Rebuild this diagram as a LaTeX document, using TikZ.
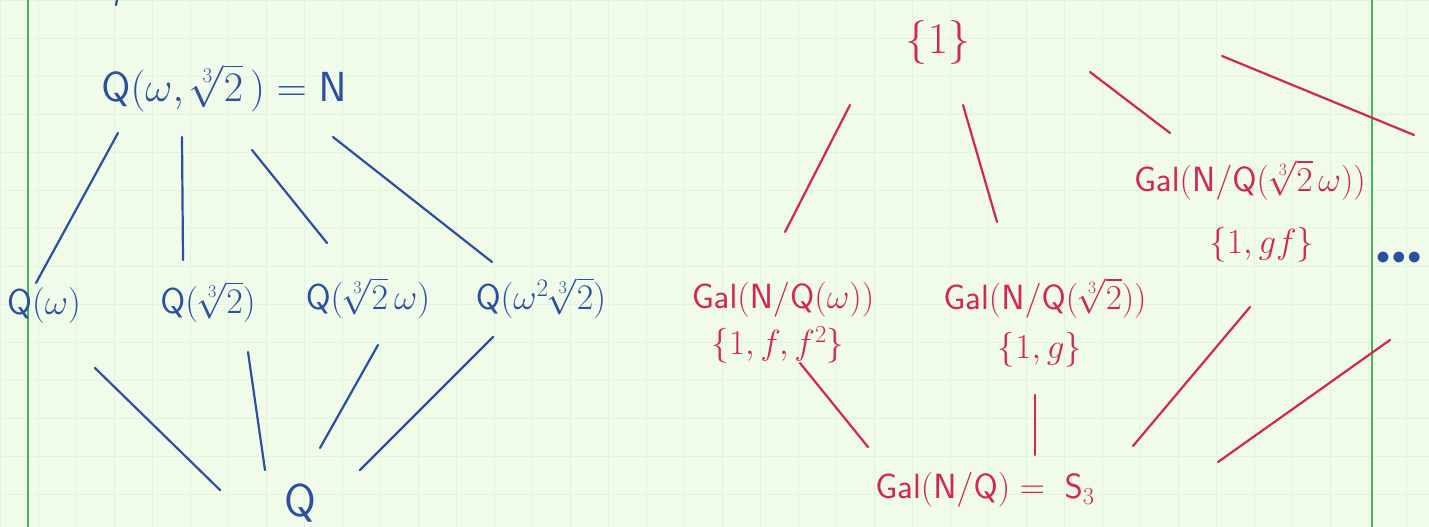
\RequirePackage{fix-cm}
\documentclass[tikz,border=0pt]{standalone}
\usepackage{amsmath}
\definecolor{paper}{HTML}{F0FBE9}
\definecolor{gridc}{HTML}{E2F3DF}
\definecolor{margin}{HTML}{3DB85C}
\definecolor{ink}{HTML}{2C4FA3}
\definecolor{redink}{HTML}{D62550}
\newcommand{\Qq}{\mathsf{Q}}
\newcommand{\Nn}{\mathsf{N}}
\newcommand{\Gal}{\mathsf{Gal}}
\tikzset{
  blue label/.style={text=ink, inner sep=0pt, font=\fontsize{36}{40}\selectfont},
  red label/.style={text=redink, inner sep=0pt, font=\fontsize{35}{39}\selectfont},
  blue line/.style={draw=ink, line width=2.2pt, line cap=round},
  red line/.style={draw=redink, line width=2.2pt, line cap=round},
}
\begin{document}
\begin{tikzpicture}[x=1pt, y=-1pt]
\useasboundingbox (0,0) rectangle (1429,527);
\fill[paper] (0,0) rectangle (1429,527);
\foreach \gx in {0,38,...,1429} \draw[gridc, line width=0.8pt] (\gx,0) -- (\gx,527);
\foreach \gy in {0,38,...,527} \draw[gridc, line width=0.8pt] (0,\gy) -- (1429,\gy);
\draw[margin, line width=1.6pt] (28,0) -- (28,527);
\draw[margin, line width=1.6pt] (1372,0) -- (1372,527);
% tiny stroke at top
\draw[blue line] (117,0) -- (116,5);

% ---- left lattice (fields)
\node[blue label, font=\fontsize{42}{46}\selectfont] (N) at (224,88) {$\Qq(\omega,\sqrt[3]{2}\,) = \Nn$};
\node[blue label] (Qw) at (44,305) {$\Qq(\omega)$};
\node[blue label] (Qr) at (208,302) {$\Qq(\sqrt[3]{2})$};
\node[blue label] (Qrw) at (368,298) {$\Qq(\sqrt[3]{2}\,\omega)$};
\node[blue label] (Qwr) at (541,298) {$\Qq(\omega^{2}\sqrt[3]{2})$};
\node[blue label, font=\fontsize{46}{50}\selectfont] (Q) at (300,503) {$\Qq$};

\coordinate (n1) at (118,133); \coordinate (w1) at (36,283);
\coordinate (n2) at (182,137); \coordinate (r1) at (183,260);
\coordinate (n3) at (252,150); \coordinate (rw1) at (327,243);
\coordinate (n4) at (333,137); \coordinate (wr1) at (492,262);
\draw[blue line] (n1) -- (w1);
\draw[blue line] (n2) -- (r1);
\draw[blue line] (n3) -- (rw1);
\draw[blue line] (n4) -- (wr1);

\coordinate (w2) at (95,368);  \coordinate (q1) at (220,490);
\coordinate (r2) at (248,352); \coordinate (q2) at (265,470);
\coordinate (rw2) at (378,345); \coordinate (q3) at (320,448);
\coordinate (wr2) at (493,337); \coordinate (q4) at (360,470);
\draw[blue line] (w2) -- (q1);
\draw[blue line] (r2) -- (q2);
\draw[blue line] (rw2) -- (q3);
\draw[blue line] (wr2) -- (q4);

% ---- right lattice (groups)
\node[red label, font=\fontsize{44}{48}\selectfont] (one) at (938,42) {$\{1\}$};
\node[red label] (Gw) at (783,300) {$\Gal(\Nn/\Qq(\omega))$};
\node[red label] (Gwset) at (778,345) {$\{1,f,f^{2}\}$};
\node[red label] (Gr) at (1045,298) {$\Gal(\Nn/\Qq(\sqrt[3]{2}))$};
\node[red label] (Grset) at (1040,350) {$\{1,g\}$};
\node[red label] (Grw) at (1250,180) {$\Gal(\Nn/\Qq(\sqrt[3]{2}\,\omega))$};
\node[red label] (Grwset) at (1262,245) {$\{1,gf\}$};
\node[red label] (GQ) at (985,490) {$\Gal(\Nn/\Qq) = \;\mathsf{S}_{3}$};
\node[text=ink, inner sep=0pt, anchor=west, font=\fontsize{28}{32}\selectfont] (dots) at (1376,258) {$\bullet\!\bullet\!\bullet$};

\coordinate (o1) at (850,105); \coordinate (a1) at (785,232);
\coordinate (o2) at (963,105); \coordinate (b1) at (997,222);
\coordinate (o3) at (1090,72); \coordinate (c1) at (1170,133);
\coordinate (o4) at (1222,56); \coordinate (d1) at (1414,135);
\draw[red line] (o1) -- (a1);
\draw[red line] (o2) -- (b1);
\draw[red line] (o3) -- (c1);
\draw[red line] (o4) -- (d1);

\coordinate (a2) at (800,363); \coordinate (s1) at (868,447);
\coordinate (b2) at (1035,395); \coordinate (s2) at (1035,455);
\coordinate (c2) at (1250,307); \coordinate (s3) at (1133,446);
\coordinate (d2) at (1390,340); \coordinate (s4) at (1218,462);
\draw[red line] (a2) -- (s1);
\draw[red line] (b2) -- (s2);
\draw[red line] (c2) -- (s3);
\draw[red line] (d2) -- (s4);
\end{tikzpicture}
\end{document}
